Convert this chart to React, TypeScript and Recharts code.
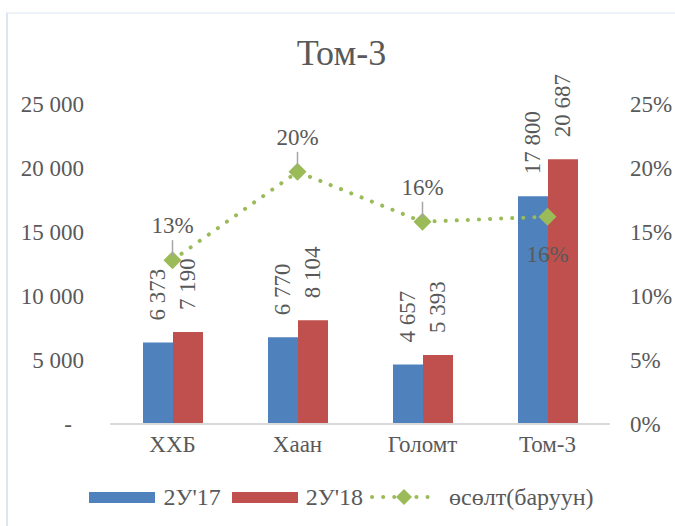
import React from 'react';
import { Bar, ComposedChart, LabelList, Legend, Line, XAxis, YAxis } from 'recharts';

const categories = ['ХХБ', 'Хаан', 'Голомт', 'Том-3'];
const values17 = [6373, 6770, 4657, 17800];
const values18 = [7190, 8104, 5393, 20687];
const growth = [0.128, 0.197, 0.158, 0.162];
const leftTicks = [0, 5000, 10000, 15000, 20000, 25000];
const rightTicks = [0, 0.05, 0.1, 0.15, 0.2, 0.25];

const FONT = 'Liberation Serif, DejaVu Serif, serif';
const TEXT = '#595959';
const BLUE = '#4f81bd';
const RED = '#c0504d';
const GREEN = '#9bbb59';
const FS = 23;

const data = categories.map((name, i) => ({
  name,
  v17: values17[i],
  v18: values18[i],
  growth: growth[i],
}));

const fmt = (n: number) => String(n).replace(/\B(?=(\d{3})+(?!\d))/g, ' ');

// left axis tick, zero shown as a dash placed further left (accounting style)
const LeftTick = ({ x, y, payload }: any) => (
  <text
    x={payload.value === 0 ? x - 12 : x}
    y={y}
    dy='0.35em'
    textAnchor='end'
    fill={TEXT}
    style={{ fontSize: FS, fontFamily: FONT }}
  >
    {payload.value === 0 ? '-' : fmt(payload.value)}
  </text>
);

const BarValue = ({ x, y, width, value }: any) => {
  const cx = x + width / 2;
  const ty = y - 22;
  return (
    <text
      x={cx}
      y={ty}
      transform={`rotate(-90 ${cx} ${ty})`}
      textAnchor='start'
      dominantBaseline='central'
      fill={TEXT}
      style={{ fontSize: FS, fontFamily: FONT }}
    >
      {fmt(value)}
    </text>
  );
};

const GrowthLabel = ({ x, y, value, index }: any) => {
  const txt = Math.round(value * 100) + '%';
  if (index === 3) {
    return (
      <text x={x} y={y + 37} dy='0.35em' textAnchor='middle' fill={TEXT} style={{ fontSize: FS, fontFamily: FONT }}>
        {txt}
      </text>
    );
  }
  return (
    <g>
      <line x1={x} x2={x} y1={y - 20} y2={y - 4} stroke='#a6a6a6' strokeWidth={1.5} />
      <text x={x} y={y - 35} dy='0.35em' textAnchor='middle' fill={TEXT} style={{ fontSize: FS, fontFamily: FONT }}>
        {txt}
      </text>
    </g>
  );
};

const Diamond = ({ cx, cy }: any) => (
  <polygon points={`${cx},${cy - 9} ${cx + 9},${cy} ${cx},${cy + 9} ${cx - 9},${cy}`} fill={GREEN} />
);

const renderLegend = () => (
  <div
    style={{
      display: 'flex',
      alignItems: 'center',
      justifyContent: 'center',
      fontFamily: FONT,
      fontSize: 24,
      color: TEXT,
      height: 26,
      paddingLeft: 8,
    }}
  >
    <span style={{ width: 66, height: 11, background: BLUE, display: 'inline-block', marginRight: 8 }} />
    <span style={{ marginRight: 11 }}>2У'17</span>
    <span style={{ width: 66, height: 11, background: RED, display: 'inline-block', marginRight: 8 }} />
    <span style={{ marginRight: 6 }}>2У'18</span>
    <svg width={70} height={20} style={{ marginRight: 10 }}>
      <line x1={3} x2={67} y1={10} y2={10} stroke={GREEN} strokeWidth={4} strokeDasharray='0.1 11' strokeLinecap='round' />
      <polygon points='35,2 43,10 35,18 27,10' fill={GREEN} />
    </svg>
    <span>өсөлт(баруун)</span>
  </div>
);

const tickStyle = { fill: TEXT, fontSize: FS, fontFamily: FONT, style: { fontFamily: FONT } };

export default function App() {
  return (
    <div style={{ position: 'absolute', left: 0, top: 0, width: 675, height: 526, background: '#fff', fontFamily: FONT }}>
      <div
        style={{
          position: 'absolute',
          left: 6,
          top: 12,
          width: 669,
          height: 514,
          borderLeft: '2px solid #dce6f2',
          borderTop: '2px solid #eef3fa',
        }}
      />
      <div
        style={{
          position: 'absolute',
          top: 32,
          left: 0,
          width: 683,
          textAlign: 'center',
          fontFamily: FONT,
          fontSize: 36,
          color: TEXT,
        }}
      >
        Том-3
      </div>
      <ComposedChart
        width={675}
        height={526}
        data={data}
        margin={{ top: 104, right: 0, left: 0, bottom: 26 }}
        barGap={0}
        style={{ position: 'absolute', left: 0, top: 0, fontFamily: FONT }}
      >
        <XAxis
          dataKey='name'
          height={50}
          axisLine={{ stroke: '#d9d9d9', strokeWidth: 2 }}
          tickLine={false}
          tickSize={0}
          tickMargin={12}
          tick={tickStyle}
        />
        <YAxis
          yAxisId='left'
          width={110}
          domain={[0, 25000]}
          ticks={leftTicks}
          axisLine={false}
          tickLine={false}
          tickSize={0}
          tickMargin={26}
          tick={<LeftTick />}
        />
        <YAxis
          yAxisId='right'
          orientation='right'
          width={65}
          domain={[0, 0.25]}
          ticks={rightTicks}
          axisLine={false}
          tickLine={false}
          tickSize={0}
          tickMargin={20}
          tickFormatter={(v: number) => Math.round(v * 100) + '%'}
          tick={tickStyle}
        />
        <Bar yAxisId='left' dataKey='v17' name="2У'17" fill={BLUE} barSize={30} isAnimationActive={false}>
          <LabelList dataKey='v17' content={<BarValue />} />
        </Bar>
        <Bar yAxisId='left' dataKey='v18' name="2У'18" fill={RED} barSize={30} isAnimationActive={false}>
          <LabelList dataKey='v18' content={<BarValue />} />
        </Bar>
        <Line
          yAxisId='right'
          dataKey='growth'
          name='өсөлт(баруун)'
          type='linear'
          stroke={GREEN}
          strokeWidth={4}
          strokeDasharray='0.1 11'
          strokeLinecap='round'
          dot={<Diamond />}
          activeDot={false}
          isAnimationActive={false}
        >
          <LabelList dataKey='growth' content={<GrowthLabel />} />
        </Line>
        <Legend verticalAlign='bottom' content={renderLegend} wrapperStyle={{ bottom: 16, left: 0, width: 675 }} />
      </ComposedChart>
    </div>
  );
}
